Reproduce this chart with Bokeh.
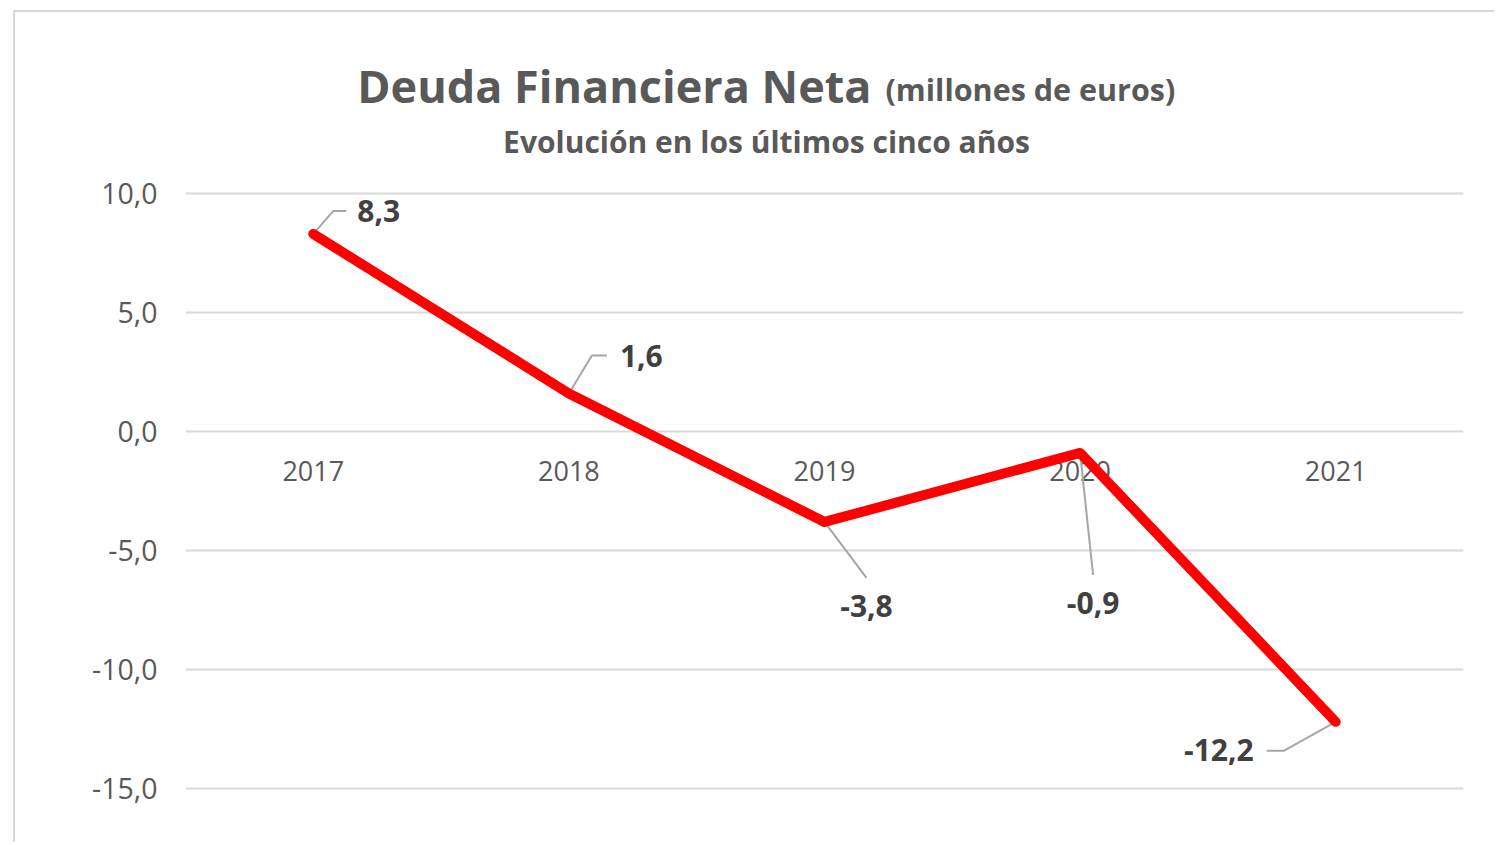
from bokeh.plotting import figure
from bokeh.models import FixedTicker, ColumnDataSource
from bokeh.core.properties import value
from bokeh.embed import file_html
from bokeh.resources import INLINE

# ---------------- data ----------------
years = ["2017", "2018", "2019", "2020", "2021"]
deuda = [8.3, 1.6, -3.8, -0.9, -12.2]
deuda_labels = ["8,3", "1,6", "-3,8", "-0,9", "-12,2"]
y_ticks = [-15, -10, -5, 0, 5, 10]
y_tick_labels = ["-15,0", "-10,0", "-5,0", "0,0", "5,0", "10,0"]
title_main = "Deuda Financiera Neta"
title_unit = "(millones de euros)"
subtitle = "Evolución en los últimos cinco años"

# ---------------- layout constants ----------------
FONT = "Open Sans"
W, H = 1481, 832
MB_L, MB_R, MB_T, MB_B = 170, 33, 28, 14
FRAME_W = W - MB_L - MB_R
FRAME_H = H - MB_T - MB_B
Y0, Y1 = -16.765, 16.4286
ppu_x = FRAME_W / len(years)
ppu_y = FRAME_H / (Y1 - Y0)

GRAY_TXT = "#595959"
DARK_TXT = "#404040"
GRID = "#d9d9d9"
LEADER = "#a6a6a6"

p = figure(x_range=years, y_range=(Y0, Y1), width=W, height=H,
           output_backend="svg", toolbar_location=None,
           min_border_left=MB_L, min_border_right=MB_R,
           min_border_top=MB_T, min_border_bottom=MB_B)
p.styles = {"margin-left": "13px", "margin-top": "10px",
            "border-top": "2px solid #d9d9d9", "border-left": "2px solid #d9d9d9"}
p.outline_line_color = None
p.background_fill_color = "white"
p.border_fill_color = "white"

# y axis
p.yaxis.ticker = FixedTicker(ticks=y_ticks)
p.yaxis.major_label_overrides = {t: l for t, l in zip(y_ticks, y_tick_labels)}
p.yaxis.axis_line_color = None
p.yaxis.major_tick_line_color = None
p.yaxis.minor_tick_line_color = None
p.yaxis.major_tick_out = 0
p.yaxis.major_tick_in = 0
p.yaxis.major_label_standoff = 28
p.yaxis.major_label_text_font = FONT
p.yaxis.major_label_text_font_size = "28.5px"
p.yaxis.major_label_text_color = GRAY_TXT
p.ygrid.grid_line_color = GRID
p.ygrid.grid_line_width = 2
p.xgrid.grid_line_color = None
p.xaxis.visible = False

# category labels at the 0 line
p.text(x=years, y=[0] * len(years), text=years, text_font=value(FONT),
       text_font_size="27px", text_color=GRAY_TXT, text_align="center",
       text_baseline="alphabetic", y_offset=40)

# leader lines (pixel offsets from each point; y down positive)
leader_px = [
    [(0, 0), (20, -23), (33, -23)],
    [(0, 0), (23, -38), (38, -38)],
    [(0, 0), (42, 56)],
    [(0, 0), (13, 122)],
    [(0, 0), (-52, 29), (-69, 29)],
]
xs, ys = [], []
for i, (v, pts) in enumerate(zip(deuda, leader_px)):
    xs.append([i + 0.5 + dx / ppu_x for dx, dy in pts])
    ys.append([v - dy / ppu_y for dx, dy in pts])
p.multi_line(xs=xs, ys=ys, line_color=LEADER, line_width=2)

# main line
p.line(x=years, y=deuda, line_color="#ff0000", line_width=10,
       line_join="round", line_cap="round")

# data labels
lab = ColumnDataSource(dict(
    x=years, y=deuda, text=deuda_labels,
    xo=[44, 51, 42, 13, -82],
    yo=[-23, -37, 84, 150, 28],
    align=["left", "left", "center", "center", "right"],
))
p.text(x="x", y="y", text="text", source=lab, x_offset="xo", y_offset="yo",
       text_align="align", text_baseline="alphabetic",
       text_font=value(FONT), text_font_style="bold", text_font_size="30px",
       text_color=DARK_TXT)

# titles (placed in chart space above the gridlines)
def px_to_x(px):
    return (px - 185) / ppu_x

def py_to_y(py):
    return Y1 - (py - 40) / ppu_y

p.text(x=[px_to_x(871)], y=[py_to_y(85)], text=[title_main], text_font=value(FONT),
       text_font_style="bold", text_font_size="45px", text_color=GRAY_TXT,
       text_align="right", text_baseline="alphabetic")
p.text(x=[px_to_x(885)], y=[py_to_y(88)], text=[title_unit], text_font=value(FONT),
       text_font_style="bold", text_font_size="30.5px", text_color=GRAY_TXT,
       text_align="left", text_baseline="alphabetic")
p.text(x=[px_to_x(766)], y=[py_to_y(141)], text=[subtitle], text_font=value(FONT),
       text_font_style="bold", text_font_size="30px", text_color=GRAY_TXT,
       text_align="center", text_baseline="alphabetic")

open("out.html", "w").write(file_html(p, INLINE))
